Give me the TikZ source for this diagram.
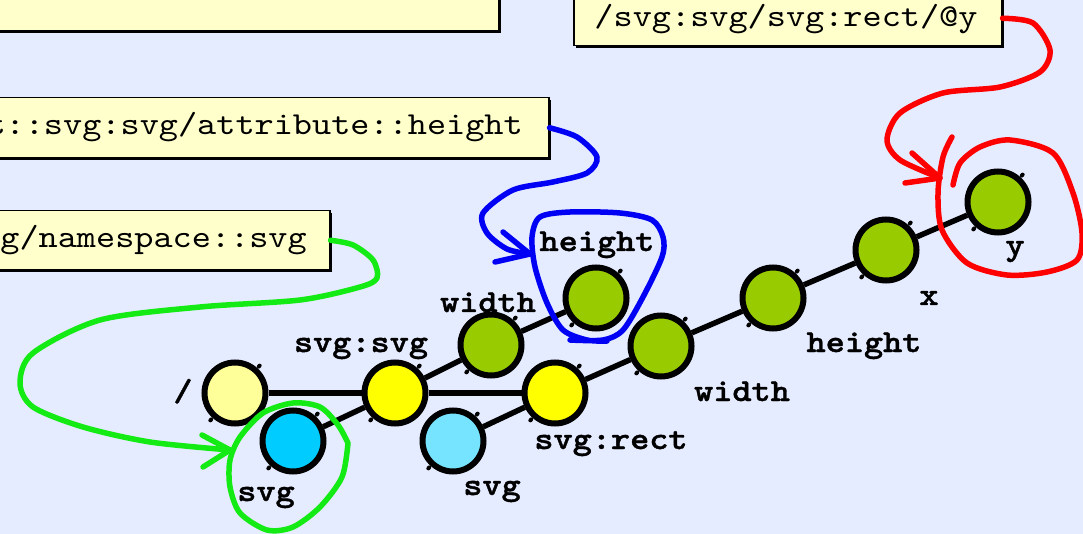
\documentclass[tikz,border=0pt]{standalone}
\usepackage{fontspec}
\newfontfamily\monoreg[FakeStretch=1.14]{lmmono10-regular.otf}
\newfontfamily\monobold[FakeStretch=1.14, FakeBold=1.2]{lmmonolt10-bold.otf}
\usetikzlibrary{shadows,calc}

\definecolor{bg}{RGB}{230,236,255}
\definecolor{notefill}{RGB}{255,255,204}
\definecolor{rootfill}{RGB}{255,255,153}
\definecolor{elemfill}{RGB}{255,255,0}
\definecolor{nsfill}{RGB}{0,204,255}
\definecolor{nsfilllight}{RGB}{119,228,255}
\definecolor{attrfill}{RGB}{153,204,0}
\definecolor{penred}{RGB}{255,0,0}
\definecolor{penblue}{RGB}{0,0,245}
\definecolor{pengreen}{RGB}{20,235,20}

\tikzset{
  note/.style={rectangle, draw=black, line width=1.5pt, fill=notefill, inner sep=0pt,
    anchor=north west,
    drop shadow={shadow xshift=2pt, shadow yshift=-2pt, opacity=1, fill=black}},
  notetext/.style={inner sep=0pt, font=\monoreg\fontsize{32}{38}\selectfont},
  treenode/.style={circle, draw=black, line width=6pt, minimum size=61pt, inner sep=0pt},
  treelabel/.style={inner sep=0pt, anchor=base, font=\monobold\fontsize{32}{38}\selectfont},
  treeline/.style={line width=5.5pt},
  tick/.style={line width=4pt, line cap=round},
  pen/.style={line width=5.5pt, line cap=round, line join=round},
}

\begin{document}
\begin{tikzpicture}[x=1pt, y=1pt]
  \useasboundingbox (0,0) rectangle (1083,-534);
  \fill[bg] (0,0) rectangle (1083,-534);
  \clip (0,0) rectangle (1083,-534);

  % expression boxes
  \node[note, minimum width=508pt, minimum height=40pt] (noteA) at (-10,10) {};
  \node[note, minimum width=428pt, minimum height=55pt] (noteB) at (573,10) {};
  \node[note, minimum width=558pt, minimum height=60pt] (noteC) at (-10,-97) {};
  \node[note, minimum width=339pt, minimum height=59pt] (noteD) at (-10,-210) {};

  \node[notetext, anchor=base] (txtB) at (786,-27) {/svg:svg/svg:rect/@y};
  \node[notetext, anchor=base east] (txtC) at (523,-135) {/descendant::svg:svg/attribute::height};
  \node[notetext, anchor=base east] (txtD) at (307,-248) {/svg:svg/namespace::svg};

  % tree nodes
  \node[treenode, fill=rootfill]    (root)   at (235,-393) {};
  \node[treenode, fill=elemfill]    (svgsvg) at (395,-393) {};
  \node[treenode, fill=nsfill]      (nsA)    at (293,-441) {};
  \node[treenode, fill=attrfill]    (wA)     at (491,-345) {};
  \node[treenode, fill=attrfill]    (hA)     at (596,-298) {};
  \node[treenode, fill=elemfill]    (rect)   at (555,-393) {};
  \node[treenode, fill=nsfilllight] (nsB)    at (453,-441) {};
  \node[treenode, fill=attrfill]    (wB)     at (661,-346) {};
  \node[treenode, fill=attrfill]    (hB)     at (773,-298) {};
  \node[treenode, fill=attrfill]    (ax)     at (886,-250) {};
  \node[treenode, fill=attrfill]    (ay)     at (998,-202) {};

  % small knobs on the node rims
  \foreach \n in {root,svgsvg,nsA,wA,hA,rect,nsB,wB,hB,ax,ay} {
    \draw[tick] ($(\n.center)!1.06!(\n.48)$) -- ($(\n.center)!1.1!(\n.48)$);
    \draw[tick] ($(\n.center)!1.06!(\n.228)$) -- ($(\n.center)!1.1!(\n.228)$);
  }

  % tree edges
  \draw[treeline] (root) -- (svgsvg);
  \draw[treeline] (svgsvg) -- (rect);
  \draw[treeline] (nsA) -- (svgsvg);
  \draw[treeline] (svgsvg) -- (wA);
  \draw[treeline] (wA) -- (hA);
  \draw[treeline] (nsB) -- (rect);
  \draw[treeline] (rect) -- (wB);
  \draw[treeline] (wB) -- (hB);
  \draw[treeline] (hB) -- (ax);
  \draw[treeline] (ax) -- (ay);

  % node labels
  \node[treelabel] (lroot)   at (183,-401) {/};
  \node[treelabel] (lsvgsvg) at (361,-352) {svg:svg};
  \node[treelabel] (lwA)     at (488,-312) {width};
  \node[treelabel] (lhA)     at (597,-251) {height};
  \node[treelabel] (lrect)   at (611,-449) {svg:rect};
  \node[treelabel] (lnsA)    at (266,-501) {svg};
  \node[treelabel] (lnsB)    at (492,-495) {svg};
  \node[treelabel] (lwB)     at (742,-401) {width};
  \node[treelabel] (lhB)     at (864,-352) {height};
  \node[treelabel] (lax)     at (929,-305) {x};
  \node[treelabel] (lay)     at (1015,-255) {y};

  % red: /svg:svg/svg:rect/@y selects y
  \coordinate (redtip) at (940,-178);
  \draw[pen, penred] plot[smooth] coordinates {(noteB.east) (1033,-23) (1050,-50) (1040,-72)
    (1000,-87) (943,-93) (900,-113) (887,-140) (900,-160) (redtip)};
  \draw[pen, penred] (912,-153) -- (redtip) -- (905,-183);
  \draw[pen, penred] plot[smooth] coordinates {(953,-185) (960,-163) (980,-147) (1010,-140)
    (1053,-153) (1073,-193) (1082,-233) (1077,-260) (1047,-272) (1007,-275) (967,-263)
    (942,-230) (938,-193) (943,-157) (952,-137)};

  % blue: attribute::height selects height
  \coordinate (bluetip) at (530,-254);
  \draw[pen, penblue] plot[smooth] coordinates {(noteC.east) (577,-137) (597,-157) (587,-173)
    (553,-182) (513,-190) (483,-213) (487,-233) (507,-249) (bluetip)};
  \draw[pen, penblue] (503,-232) -- (bluetip) -- (495,-262);
  \draw[pen, penblue] plot[smooth] coordinates {(570,-340) (603,-340) (623,-330) (643,-297)
    (662,-257) (663,-237) (652,-220) (620,-213) (570,-212) (540,-217) (532,-237) (535,-267)
    (547,-303) (563,-330) (587,-340) (607,-341)};

  % green: namespace::svg selects svg
  \coordinate (greentip) at (230,-450);
  \draw[pen, pengreen] plot[smooth] coordinates {(noteD.east) (353,-245) (373,-260) (377,-278)
    (360,-287) (300,-300) (200,-307) (100,-320) (33,-353) (20,-383) (33,-407) (83,-427)
    (150,-442) (greentip)};
  \draw[pen, pengreen] (202,-435) -- (greentip) -- (203,-467);
  \draw[pen, pengreen] plot[smooth] coordinates {(348,-443) (342,-477) (320,-507) (293,-527)
    (267,-530) (240,-513) (230,-487) (230,-460) (240,-437) (263,-413) (293,-403) (320,-407)
    (338,-425) (348,-443)};
\end{tikzpicture}
\end{document}
